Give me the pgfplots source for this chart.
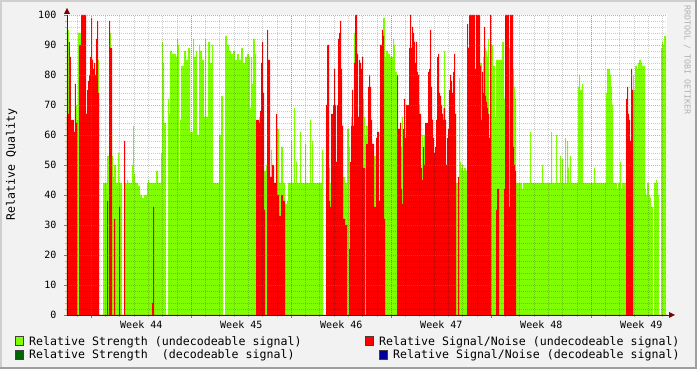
\documentclass[border=0pt]{standalone}
\usepackage{fontspec}
\setmonofont{DejaVu Sans Mono}
\usepackage{pgfplots}
\pgfplotsset{compat=1.18}
\definecolor{bgc}{HTML}{F2F2F2}
\definecolor{grn}{HTML}{80FF00}
\definecolor{dgrn}{HTML}{006400}
\definecolor{nav}{HTML}{000096}
\definecolor{mgrid}{HTML}{E05050}
\definecolor{arr}{HTML}{800000}
\definecolor{shA}{HTML}{CFCFCF}
\definecolor{shB}{HTML}{9E9E9E}
\begin{document}
\begin{tikzpicture}[x=1pt,y=1pt]
\useasboundingbox (0,0) rectangle (697,369);
\fill[bgc] (0,0) rectangle (697,369);
\fill[shA] (0,367) rectangle (697,369);
\fill[shA] (0,0) rectangle (2,369);
\fill[shB] (0,0) rectangle (697,2);
\fill[shB] (695,0) rectangle (697,369);
\begin{axis}[
  at={(67pt,54pt)}, anchor=south west,
  scale only axis, width=600pt, height=300pt,
  xmin=67, xmax=667, ymin=0, ymax=100,
  axis x line*=bottom, axis y line*=left,
  axis line style={draw=black!85, line width=0.8pt},
  axis on top,
  axis background/.style={fill=white},
  xtick={91.3,191.3,291.3,391.3,491.3,591.3},
  xticklabels={},
  minor xtick={77.0143,91.3,...,666},
  extra x ticks={141.3,241.3,341.3,441.3,541.3,641.3},
  extra x tick labels={Week 44,Week 45,Week 46,Week 47,Week 48,Week 49},
  extra x tick style={grid=none, major tick length=0pt},
  ytick={0,10,...,100},
  minor y tick num=4,
  grid=both,
  major grid style={draw=mgrid, opacity=0.55, dash pattern=on 1pt off 1pt, line width=0.8pt},
  minor grid style={draw=black, opacity=0.2, dash pattern=on 1pt off 1pt, line width=0.8pt},
  tick align=outside, major tick length=3pt, minor tick length=2pt,
  major tick style={draw=mgrid, line width=0.8pt},
  minor tick style={draw=gray!60, line width=0.8pt},
  /pgf/number format/assume math mode=true,
  xticklabel style={font=\ttfamily\fontsize{10}{10}\selectfont, inner sep=0pt, anchor=north, yshift=-5.5pt},
  yticklabel style={font=\ttfamily\fontsize{10}{10}\selectfont, inner sep=0pt, anchor=east, xshift=-7.5pt},
]
\addplot[draw=none, fill=grn, const plot] coordinates {
(67,95)(69,0)(76,70)(77,65)(78,94)(81,0)(98,85)(99,0)(103,44)(107,53)(109,94)(111,61)(112,53)(113,46)(114,50)(116,44)(118,54)(119,44)(122,0)(125,44)(127,45)(128,44)(132,50)(133,63)(134,47)(135,44)(138,43)(140,40)(142,39)(144,40)(147,44)(148,45)(149,44)(156,48)(158,44)(161,54)(162,91)(163,84)(164,64)(166,0)(168,72)(169,67)(170,88)(172,87)(176,86)(177,92)(178,90)(179,44)(180,65)(181,83)(184,88)(186,85)(188,89)(190,61)(193,92)(194,86)(196,88)(197,60)(199,90)(200,88)(202,85)(204,66)(205,92)(206,66)(208,91)(210,84)(212,90)(213,44)(219,60)(221,73)(223,0)(225,93)(227,90)(229,88)(231,87)(233,88)(235,85)(237,87)(239,85)(241,89)(243,84)(245,86)(247,87)(249,86)(250,69)(251,86)(252,77)(253,92)(255,87)(256,0)(259,66)(261,0)(264,48)(266,50)(268,0)(271,55)(272,0)(274,44)(276,0)(277,62)(279,44)(281,56)(283,44)(285,37)(287,38)(288,44)(291,58)(292,44)(294,69)(295,44)(296,51)(297,44)(300,61)(301,44)(305,57)(306,44)(310,65)(311,44)(312,58)(313,44)(322,55)(323,0)(329,49)(330,44)(333,0)(343,46)(345,44)(347,62)(349,56)(350,0)(351,66)(352,75)(353,0)(354,94)(356,0)(363,72)(364,66)(365,60)(366,63)(368,0)(374,53)(376,0)(383,99)(385,86)(386,88)(388,87)(390,86)(393,92)(394,90)(395,81)(397,0)(401,56)(402,66)(403,0)(406,70)(407,0)(419,70)(420,0)(422,60)(423,0)(424,60)(425,0)(443,69)(444,88)(445,0)(455,67)(456,44)(458,0)(459,79)(460,51)(461,49)(462,50)(463,48)(464,49)(466,48)(467,0)(469,95)(471,90)(472,0)(480,84)(482,52)(483,86)(484,0)(485,89)(486,88)(487,86)(488,92)(489,0)(491,90)(493,83)(495,66)(496,85)(499,85)(502,91)(504,72)(505,0)(509,89)(510,0)(513,82)(514,76)(515,72)(516,44)(522,42)(523,44)(530,61)(531,44)(542,50)(543,44)(551,61)(552,44)(556,60)(557,44)(560,53)(561,44)(562,52)(563,44)(565,59)(566,44)(567,58)(568,49)(569,44)(570,53)(571,44)(578,76)(579,80)(580,75)(582,77)(583,44)(594,49)(595,44)(606,74)(607,82)(610,80)(611,76)(612,70)(613,44)(617,42)(618,44)(620,51)(621,42)(622,44)(626,0)(633,80)(634,75)(635,83)(637,82)(638,84)(639,85)(641,84)(642,83)(645,42)(646,40)(647,44)(649,40)(650,39)(651,36)(653,0)(654,44)(656,45)(657,44)(658,40)(659,0)(661,89)(662,91)(663,90)(664,93)(666,0)(667,0)
} \closedcycle;
\addplot[draw=none, fill=red, const plot] coordinates {
(67,66)(68,67)(69,91)(70,86)(71,65)(74,61)(75,77)(76,64)(77,0)(79,90)(81,100)(86,67)(87,75)(88,78)(89,80)(90,86)(91,99)(92,85)(93,82)(94,84)(95,80)(96,92)(97,98)(98,74)(99,0)(107,38)(108,0)(109,98)(110,89)(112,0)(114,32)(115,0)(119,36)(120,0)(124,58)(125,0)(152,4)(153,36)(154,0)(256,65)(259,64)(260,68)(261,84)(262,91)(263,74)(264,35)(265,0)(267,95)(268,85)(270,46)(272,50)(274,44)(276,67)(277,40)(279,33)(281,40)(283,38)(285,0)(326,70)(327,90)(329,38)(330,36)(331,67)(333,70)(334,82)(335,70)(336,51)(337,70)(338,92)(339,94)(340,98)(341,82)(342,63)(343,32)(345,30)(347,0)(349,22)(350,51)(351,63)(352,75)(353,63)(354,84)(355,100)(357,87)(358,66)(359,85)(360,84)(361,82)(362,86)(363,49)(365,0)(366,57)(368,76)(369,80)(370,76)(371,65)(372,57)(374,36)(376,59)(377,61)(379,38)(380,90)(382,95)(383,93)(384,32)(385,0)(397,80)(398,62)(400,64)(401,42)(402,37)(403,62)(404,72)(405,59)(406,70)(409,89)(410,100)(411,89)(412,96)(413,94)(414,91)(415,84)(416,91)(417,81)(418,80)(419,67)(421,49)(422,45)(423,56)(424,50)(425,64)(428,81)(429,82)(430,95)(431,76)(432,65)(433,59)(434,54)(435,56)(436,65)(437,86)(438,87)(439,74)(440,73)(441,70)(442,67)(443,65)(444,69)(445,65)(446,50)(447,59)(448,62)(449,75)(450,80)(451,78)(452,74)(453,81)(454,87)(455,67)(456,0)(458,46)(459,0)(467,97)(468,89)(469,100)(475,82)(476,100)(480,83)(481,65)(482,81)(483,74)(484,96)(485,73)(486,71)(487,69)(488,67)(489,59)(490,100)(491,0)(496,35)(497,42)(499,0)(504,42)(505,100)(509,36)(510,100)(513,56)(514,50)(515,48)(516,0)(626,72)(627,76)(628,67)(629,65)(630,58)(631,82)(632,75)(633,0)(667,0)
} \closedcycle;
\end{axis}
% axis arrows
\draw[black!85, line width=0.8pt] (667,54) -- (670,54);
\fill[arr] (669,57) -- (669,51) -- (675,54) -- cycle;
\fill[arr] (64,355) -- (70,355) -- (67,361) -- cycle;
% y label
\node[rotate=90, anchor=base, inner sep=0pt, font=\ttfamily\fontsize{11.6}{12}\selectfont] at (15,204.5) {Relative Quality};
% watermark
\node[rotate=-90, inner sep=0pt, text=black!30, font=\ttfamily\fontsize{8.3}{8.3}\selectfont] at (687.3,309) {RRDTOOL / TOBI OETIKER};
% legend
\filldraw[fill=grn, draw=black!75, line width=0.6pt] (15,23.3) rectangle (23,32.3);
\filldraw[fill=dgrn, draw=black!75, line width=0.6pt] (15,9.7) rectangle (23,18.7);
\filldraw[fill=red, draw=black!75, line width=0.6pt] (365,23.3) rectangle (373.5,32.3);
\filldraw[fill=nav, draw=black!75, line width=0.6pt] (379,9.7) rectangle (387.5,18.7);
\begin{scope}[every node/.style={anchor=base west, inner sep=0pt, font=\ttfamily\fontsize{11.6}{12}\selectfont}]
\node at (29,23.5) {Relative Strength (undecodeable signal)};
\node at (29,10) {Relative Strength\ \ (decodeable signal)};
\node at (379,23.5) {Relative Signal/Noise (undecodeable signal)};
\node at (393,10) {Relative Signal/Noise (decodeable signal)};
\end{scope}
\end{tikzpicture}
\end{document}
